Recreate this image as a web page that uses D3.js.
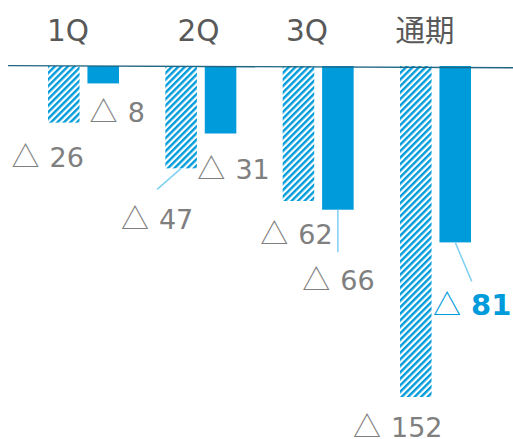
<!DOCTYPE html>
<html>
<head>
<meta charset="utf-8">
<script src="https://cdn.jsdelivr.net/npm/d3@7/dist/d3.min.js"></script>
<style>
  html, body { margin: 0; padding: 0; background: #fff; }
  svg { display: block; }
</style>
</head>
<body>
<svg id="chart" width="513" height="439"></svg>
<script>
// Quarterly results: previous year (hatched) vs current year (solid), all losses
const categories = ["1Q", "2Q", "3Q", "通期"];
const seriesKeys = ["prev", "curr"];
const prevValues = [-26, -47, -62, -152];
const currValues = [-8, -31, -66, -81];

// Label placement relative to each bar's bottom centre [dx, dy]
const prevLabelOffsets = [[-16, 44], [-24, 61], [-2, 43], [-18, 39.5]];
const currLabelOffsets = [[14, 39], [13, 45.5], [0.5, 80], [17, 72.5]];
// Leader lines from bar bottom centre: [categoryIndex, series, dx, dy]
const leaders = [[1, "prev", -24, 21], [2, "curr", 0, 42.5], [3, "curr", 16.5, 39]];
// Horizontal shift of each category heading relative to its group centre
const catLabelDx = [-15.5, -2.3, -11.2, -10.5];

const BLUE = "#009bdb";
const GREY = "#7f7f7f";

const svg = d3.select("#chart");

const x0 = d3.scaleBand().domain(categories).range([48, 471]).paddingInner(0.395).paddingOuter(0);
const x1 = d3.scaleBand().domain(seriesKeys).range([0, x0.bandwidth()]).paddingInner(0.2).paddingOuter(0);
const y = d3.scaleLinear().domain([0, -152]).range([66, 397]);

// diagonal hatch for the previous-year bars
const defs = svg.append("defs");
const pat = defs.append("pattern")
  .attr("id", "hatch")
  .attr("patternUnits", "userSpaceOnUse")
  .attr("width", 4.6).attr("height", 4.6)
  .attr("patternTransform", "rotate(45)");
pat.append("rect").attr("width", 4.6).attr("height", 4.6).attr("fill", "#fff");
pat.append("rect").attr("width", 2.4).attr("height", 4.6).attr("fill", BLUE);

const rows = categories.map((c, i) => ({
  cat: c, i,
  vals: [
    { key: "prev", v: prevValues[i], off: prevLabelOffsets[i] },
    { key: "curr", v: currValues[i], off: currLabelOffsets[i] }
  ]
}));

const barCx = (cat, key) => x0(cat) + x1(key) + x1.bandwidth() / 2;

const groups = svg.append("g").selectAll("g")
  .data(rows).join("g")
  .attr("transform", d => `translate(${x0(d.cat)},0)`);

groups.selectAll("rect")
  .data(d => d.vals).join("rect")
  .attr("x", d => x1(d.key))
  .attr("y", y(0))
  .attr("width", x1.bandwidth())
  .attr("height", d => y(d.v) - y(0))
  .attr("fill", d => d.key === "prev" ? "url(#hatch)" : BLUE);

// baseline
svg.append("line")
  .attr("x1", 8).attr("x2", 513)
  .attr("y1", 65.6).attr("y2", 67.8)
  .attr("stroke", "#1f6682").attr("stroke-width", 1.4);

// category headings
svg.append("g").selectAll("text")
  .data(categories).join("text")
  .attr("x", (c, i) => x0(c) + x0.bandwidth() / 2 + catLabelDx[i])
  .attr("y", 41)
  .attr("text-anchor", "middle")
  .attr("font-family", "'DejaVu Sans', 'Noto Sans CJK JP', sans-serif")
  .attr("font-size", 29.5)
  .attr("fill", "#595959")
  .text(c => c);

// leader lines
svg.append("g").selectAll("line")
  .data(leaders).join("line")
  .attr("x1", d => barCx(categories[d[0]], d[1]))
  .attr("y1", d => y((d[1] === "prev" ? prevValues : currValues)[d[0]]))
  .attr("x2", d => barCx(categories[d[0]], d[1]) + d[2])
  .attr("y2", d => y((d[1] === "prev" ? prevValues : currValues)[d[0]]) + d[3])
  .attr("stroke", "#7fd0f3").attr("stroke-width", 1.5);

// value labels (losses shown with △)
const labels = [];
rows.forEach(r => r.vals.forEach(v => labels.push({ cat: r.cat, i: r.i, ...v })));
const lastIdx = categories.length - 1;
const isHighlight = d => d.i === lastIdx && d.key === "curr";

const lt = svg.append("g").selectAll("text")
  .data(labels).join("text")
  .attr("x", d => barCx(d.cat, d.key) + d.off[0])
  .attr("y", d => y(d.v) + d.off[1])
  .attr("text-anchor", "middle")
  .attr("font-family", "'DejaVu Sans', sans-serif")
  .attr("font-size", 27)
  .attr("fill", d => isHighlight(d) ? BLUE : GREY);

lt.append("tspan")
  .attr("font-family", "'Noto Sans CJK JP', sans-serif")
  .attr("font-size", 28)
  .text("△");
lt.append("tspan")
  .attr("dx", 10)
  .attr("font-weight", d => isHighlight(d) ? "bold" : null)
  .attr("font-size", d => isHighlight(d) ? 29 : null)
  .text(d => Math.abs(d.v));
</script>
</body>
</html>
